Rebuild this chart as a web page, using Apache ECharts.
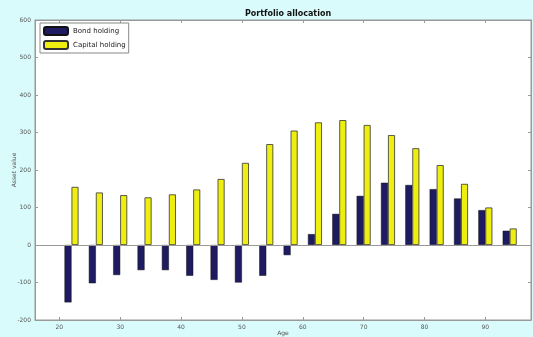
<!DOCTYPE html>
<html>
<head>
<meta charset="utf-8">
<script src="https://cdn.jsdelivr.net/npm/echarts@6/dist/echarts.min.js"></script>
<style>
  html, body { margin: 0; padding: 0; background: #d9fbfb; }
  #chart { width: 533px; height: 337px; }
</style>
</head>
<body>
<div id="chart"></div>
<script>
// ages of each bar pair
const ages = [22, 26, 30, 34, 38, 42, 46, 50, 54, 58, 62, 66, 70, 74, 78, 82, 86, 90, 94];
const bondHolding = [-153, -102, -80, -67, -67, -82, -93, -100, -82, -27, 29, 83, 131, 166, 160, 149, 124, 93, 38];
const capitalHolding = [155, 140, 133, 127, 135, 148, 176, 219, 269, 305, 327, 333, 320, 293, 258, 213, 163, 100, 44];
const xTicks = [20, 30, 40, 50, 60, 70, 80, 90];

const pairs = (vals) => ages.map((a, i) => [a, vals[i]]);

const labelStyle = { fontSize: 6, color: '#555', fontFamily: 'DejaVu Sans' };

const option = {
  backgroundColor: '#d9fbfb',
  animation: false,
  title: {
    text: 'Portfolio allocation',
    left: 283,
    top: 5,
    textAlign: 'center',
    textStyle: { fontSize: 8, fontWeight: 'bold', color: '#111', fontFamily: 'DejaVu Sans' }
  },
  legend: {
    orient: 'vertical',
    left: 40,
    top: 23,
    itemWidth: 24,
    itemHeight: 8,
    itemGap: 4,
    padding: [3, 3, 3, 3],
    backgroundColor: '#fff',
    borderColor: '#888',
    borderWidth: 1,
    textStyle: { fontSize: 7, color: '#222', fontFamily: 'DejaVu Sans' },
    data: ['Bond holding', 'Capital holding']
  },
  grid: {
    left: 35, right: 2, top: 20, bottom: 17,
    outerBoundsMode: 'none',
    containLabel: false,
    show: true,
    backgroundColor: '#fff',
    borderColor: '#999'
  },
  xAxis: [{
    type: 'value',
    min: 16,
    max: 97.5,
    name: 'Age',
    nameLocation: 'middle',
    nameGap: 10,
    nameMoveOverlap: false,
    nameTextStyle: labelStyle,
    axisLine: { show: true, onZero: false, lineStyle: { color: '#999' } },
    axisTick: { inside: true, length: 3, customValues: xTicks, lineStyle: { color: '#999' } },
    axisLabel: Object.assign({ customValues: xTicks, margin: 4 }, labelStyle),
    splitLine: { show: false }
  }, {
    type: 'value',
    position: 'top',
    min: 16,
    max: 97.5,
    axisLine: { show: true, onZero: false, lineStyle: { color: '#999' } },
    axisTick: { inside: true, length: 3, customValues: xTicks, lineStyle: { color: '#999' } },
    axisLabel: { show: false },
    splitLine: { show: false }
  }],
  yAxis: [{
    type: 'value',
    min: -200,
    max: 600,
    interval: 100,
    name: 'Asset value',
    nameLocation: 'middle',
    nameGap: 18,
    nameMoveOverlap: false,
    nameTextStyle: labelStyle,
    axisLine: { show: true, onZero: false, lineStyle: { color: '#999' } },
    axisTick: { show: true, inside: true, length: 3, lineStyle: { color: '#999' } },
    axisLabel: Object.assign({ margin: 4 }, labelStyle),
    splitLine: { show: false }
  }, {
    type: 'value',
    position: 'right',
    min: -200,
    max: 600,
    interval: 100,
    axisLine: { show: true, onZero: false, lineStyle: { color: '#999' } },
    axisTick: { show: true, inside: true, length: 3, lineStyle: { color: '#999' } },
    axisLabel: { show: false },
    splitLine: { show: false }
  }],
  series: [
    {
      name: 'Bond holding',
      type: 'bar',
      barWidth: 7,
      barGap: '0%',
      itemStyle: { color: '#1e1b62', borderColor: '#111', borderWidth: 0.5 },
      data: pairs(bondHolding),
      markLine: {
        silent: true,
        symbol: 'none',
        label: { show: false },
        lineStyle: { color: '#999', type: 'solid', width: 1 },
        data: [{ yAxis: 0 }]
      }
    },
    {
      name: 'Capital holding',
      type: 'bar',
      barWidth: 7,
      barGap: '0%',
      itemStyle: { color: '#eeee10', borderColor: '#333', borderWidth: 0.8 },
      data: pairs(capitalHolding)
    }
  ]
};

const chart = echarts.init(document.getElementById('chart'));
chart.setOption(option);
</script>
</body>
</html>
